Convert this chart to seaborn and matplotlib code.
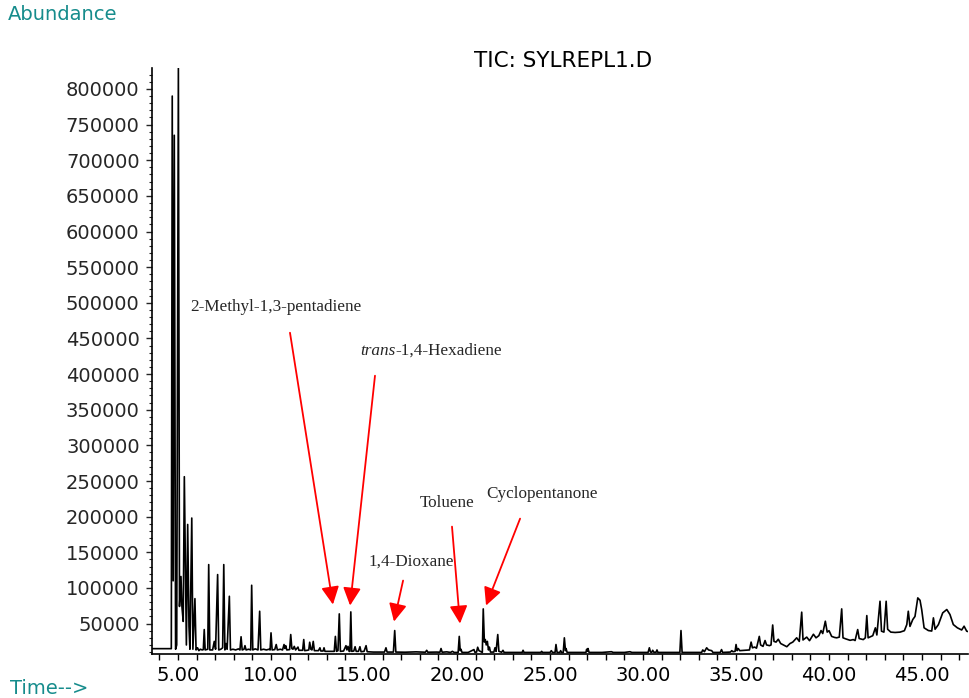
import matplotlib
matplotlib.use("Agg")
import matplotlib.pyplot as plt
from matplotlib.ticker import MultipleLocator
import seaborn as sns
import pandas as pd

# ---------------- data ----------------
time_min = [
    3.575, 4.64, 4.69, 4.74, 4.80, 4.87, 4.93, 5.02, 5.08, 5.16, 5.21, 5.28, 5.34, 5.40, 5.45,
    5.52, 5.59, 5.64, 5.74, 5.80, 5.91, 5.97, 6.05, 6.12, 6.20, 6.30, 6.36, 6.41, 6.46, 6.60,
    6.65, 6.71, 6.86, 6.95, 7.02, 7.13, 7.19, 7.30, 7.40, 7.46, 7.52, 7.58, 7.64, 7.76, 7.82,
    7.95, 8.10, 8.25, 8.33, 8.39, 8.45, 8.55, 8.60, 8.66, 8.80, 8.91, 8.96, 9.02, 9.15, 9.30,
    9.39, 9.45, 9.60, 9.75, 9.90, 9.95, 10.00, 10.06, 10.20, 10.28, 10.34, 10.50, 10.62, 10.70,
    10.75, 10.79, 10.85, 11.00, 11.06, 11.12, 11.18, 11.25, 11.32, 11.45, 11.50, 11.70, 11.76,
    11.81, 11.95, 12.03, 12.08, 12.14, 12.20, 12.27, 12.33, 12.55, 12.63, 12.68, 12.80, 12.85,
    12.90, 13.20, 13.40, 13.46, 13.52, 13.60, 13.67, 13.73, 13.90, 14.03, 14.08, 14.14, 14.20,
    14.24, 14.29, 14.34, 14.45, 14.52, 14.58, 14.70, 14.78, 14.84, 15.00, 15.11, 15.17, 15.50,
    16.10, 16.18, 16.24, 16.58, 16.65, 16.71, 17.20, 17.80, 18.30, 18.37, 18.43, 18.90, 19.08,
    19.14, 19.20, 19.45, 19.65, 19.75, 19.85, 20.06, 20.12, 20.17, 20.21, 20.27, 20.60, 20.91,
    20.96, 21.05, 21.11, 21.18, 21.36, 21.41, 21.47, 21.52, 21.57, 21.63, 21.69, 21.74, 21.80,
    21.98, 22.04, 22.10, 22.19, 22.25, 22.40, 22.47, 22.53, 23.00, 23.50, 23.55, 23.60, 24.50,
    24.55, 24.60, 25.00, 25.07, 25.13, 25.27, 25.32, 25.38, 25.52, 25.57, 25.62, 25.71, 25.77,
    25.83, 25.86, 25.92, 26.50, 26.93, 26.97, 27.00, 27.04, 27.10, 27.80, 28.30, 28.40, 29.00,
    29.30, 29.40, 29.90, 30.27, 30.34, 30.40, 30.47, 30.52, 30.58, 30.70, 30.75, 30.80, 31.50,
    31.98, 32.04, 32.10, 32.80, 33.15, 33.21, 33.30, 33.42, 33.52, 33.69, 33.76, 34.15, 34.22,
    34.28, 34.70, 34.77, 34.83, 34.95, 35.00, 35.06, 35.12, 35.20, 35.50, 35.72, 35.81, 35.88,
    36.00, 36.10, 36.25, 36.32, 36.45, 36.56, 36.64, 36.80, 36.88, 36.97, 37.04, 37.15, 37.27,
    37.40, 37.55, 37.73, 37.90, 38.05, 38.26, 38.40, 38.53, 38.60, 38.80, 38.95, 39.16, 39.30,
    39.45, 39.57, 39.66, 39.80, 39.90, 40.00, 40.14, 40.30, 40.41, 40.55, 40.68, 40.75, 40.90,
    41.13, 41.30, 41.40, 41.54, 41.62, 41.84, 41.95, 42.03, 42.10, 42.35, 42.49, 42.57, 42.74,
    42.82, 42.95, 43.07, 43.15, 43.32, 43.55, 43.82, 44.05, 44.18, 44.26, 44.35, 44.50, 44.62,
    44.77, 44.89, 44.98, 45.11, 45.34, 45.52, 45.61, 45.70, 45.88, 46.11, 46.33, 46.50, 46.68,
    46.90, 47.13, 47.26, 47.40, 47.47,
]
abundance = [
    14800, 14800, 790000, 110000, 735000, 14000, 20000, 829000, 74000, 116000, 74000, 53000, 256000, 121000, 20000,
    189000, 46000, 14000, 198000, 14000, 85000, 13000, 16000, 12000, 14000, 13000, 13500, 41600, 13000, 14000,
    132700, 13000, 13000, 25000, 14000, 118700, 13000, 14000, 16000, 132700, 13000, 22000, 14000, 88300, 13000,
    14000, 13000, 14500, 13000, 31500, 13000, 14000, 19000, 13000, 14000, 13000, 103700, 13000, 14500, 13000,
    67300, 13000, 14000, 13000, 14000, 13000, 37000, 13000, 13500, 20600, 13000, 14000, 13000, 20600,
    15000, 19000, 13000, 13500, 34600, 15000, 14000, 18000, 13000, 17000, 12500, 12500, 27600,
    12000, 12500, 13000, 23800, 14000, 13000, 25000, 12000, 12000, 16000, 11500, 11500, 16000,
    11000, 11000, 11000, 32000, 11000, 12000, 63600, 11000, 11500, 19000, 13000, 18000, 11000,
    11000, 66400, 11000, 11500, 17500, 11000, 11000, 17500, 10500, 11000, 19000, 10500, 10000,
    10000, 16000, 10000, 10000, 40200, 10000, 9800, 10300, 9800, 12500, 9800, 10000, 9800,
    15000, 9800, 10300, 9500, 11000, 9500, 9500, 32000, 12000, 14000, 9500, 9500, 13500,
    9800, 10000, 16800, 12000, 9500, 70600, 24000, 27600, 20000, 25000, 13000, 17000, 10000,
    10000, 16000, 11000, 34600, 11000, 9800, 12500, 9500, 9500, 9500, 12500, 9500, 9500,
    11000, 9500, 9500, 12000, 9500, 9500, 20600, 9500, 9500, 12000, 9500, 9500, 30000,
    12000, 15000, 9500, 9500, 9500, 14000, 11000, 15000, 9500, 9500, 10500, 9500, 9500,
    10500, 9500, 9500, 9500, 16000, 10000, 9800, 12500, 9800, 9800, 13000, 9500, 9500,
    9500, 40200, 9500, 9500, 9500, 13000, 10500, 16000, 13000, 12000, 9500, 9500, 13500,
    9500, 10000, 12000, 10500, 11000, 20600, 12000, 15000, 12000, 12500, 13000, 24000, 16000,
    17000, 15500, 32000, 20000, 18000, 26200, 20000, 19000, 20000, 48000, 25000, 24000, 28000,
    22000, 20000, 17500, 22000, 24000, 30000, 25000, 66000, 27000, 31000, 26000, 35000, 30000,
    33000, 40200, 36000, 53300, 38000, 40000, 32000, 30500, 30000, 31000, 70600, 30000, 28500,
    26500, 27500, 26200, 41600, 29000, 27500, 30000, 61200, 30000, 33000, 44000, 34000, 81300,
    39300, 38000, 81300, 42000, 38000, 37500, 38000, 40000, 48600, 67300, 46000, 55600, 60000,
    86000, 82700, 69700, 44000, 40200, 39500, 58000, 42000, 48600, 65000, 69700, 62700, 48600,
    44000, 41000, 46300, 39300, 38800,
]

x_tick_values = [5, 10, 15, 20, 25, 30, 35, 40, 45]
x_tick_labels = ["5.00", "10.00", "15.00", "20.00", "25.00", "30.00", "35.00", "40.00", "45.00"]
y_tick_values = list(range(50000, 800001, 50000))
y_tick_labels = [str(v) for v in y_tick_values]

# compound annotations: label, arrow tip (time, abundance), arrow tail, text centre
compound_names = ["2-Methyl-1,3-pentadiene", "1,4-Dioxane", "Toluene", "Cyclopentanone"]
arrow_tips = [(13.33, 76700), (16.61, 52800), (20.16, 50000), (21.56, 75300)]
arrow_tails = [(11.02, 458000), (17.10, 110300), (19.73, 186000), (23.39, 197200)]
text_centres = [(10.27, 494000), (17.53, 137000), (19.46, 219700), (24.57, 232300)]
hexadiene_tip = (14.25, 75300)
hexadiene_tail = (15.59, 397700)
hexadiene_text = (14.78, 432700)

df = pd.DataFrame({"time": time_min, "abundance": abundance})

# ---------------- styling ----------------
sns.set_style("ticks")
plt.rcParams["font.family"] = ["DejaVu Sans"]

TEAL = "#168c8c"
RED = "#ff0000"

fig = plt.figure(figsize=(9.69, 6.98), dpi=100)
ax = fig.add_axes([151.5 / 969, 1 - 654 / 698, (968 - 151.5) / 969, (654 - 68) / 698])

sns.lineplot(data=df, x="time", y="abundance", ax=ax, color="black", lw=1.2,
             estimator=None, sort=False)

ax.set_xlim(3.575, 47.47)
ax.set_ylim(7300, 829400)

ax.set_xticks(x_tick_values, labels=x_tick_labels)
ax.xaxis.set_minor_locator(MultipleLocator(1))
ax.set_yticks(y_tick_values, labels=y_tick_labels)
ax.yaxis.set_minor_locator(MultipleLocator(10000))

ax.tick_params(axis="x", which="both", direction="out", length=4.5, width=1.0,
               pad=4, labelsize=14, colors="black")
ax.tick_params(axis="y", which="major", direction="out", length=4, width=1.0,
               pad=4.5, labelsize=14)
ax.tick_params(axis="y", which="minor", direction="out", length=2, width=0.8)

for s in ["top", "right"]:
    ax.spines[s].set_visible(False)
for s in ["left", "bottom"]:
    ax.spines[s].set_linewidth(1.2)
    ax.spines[s].set_color("black")

ax.set_xlabel("")
ax.set_ylabel("")

serif = ["Liberation Serif", "DejaVu Serif"]
FS = 12.3
arrow_kw = dict(arrowstyle="-|>,head_length=0.4,head_width=0.2", color=RED, lw=1.3,
                mutation_scale=27, shrinkA=0, shrinkB=0)

for name, tip, tail, ctr in zip(compound_names, arrow_tips, arrow_tails, text_centres):
    ax.annotate("", xy=tip, xytext=tail, arrowprops=arrow_kw, annotation_clip=False)
    ax.text(ctr[0], ctr[1], name, family=serif, fontsize=FS, ha="center", va="center")

ax.annotate("", xy=hexadiene_tip, xytext=hexadiene_tail, arrowprops=arrow_kw)
t1 = ax.text(hexadiene_text[0], hexadiene_text[1], "trans", family=serif, style="italic",
             fontsize=FS, ha="left", va="center")
ax.annotate("-1,4-Hexadiene", xy=(1, 0), xycoords=t1, va="bottom", ha="left",
            family=serif, fontsize=FS)

fig.text(563 / 969, 1 - 61 / 698, "TIC: SYLREPL1.D", ha="center", va="center",
         fontsize=15.5, color="black")
fig.text(8 / 969, 1 - 15 / 698, "Abundance", ha="left", va="center", fontsize=14, color=TEAL)
fig.text(10 / 969, 1 - 688 / 698, "Time-->", ha="left", va="center", fontsize=14, color=TEAL)

fig.savefig("out.png", dpi=100, facecolor="white")
